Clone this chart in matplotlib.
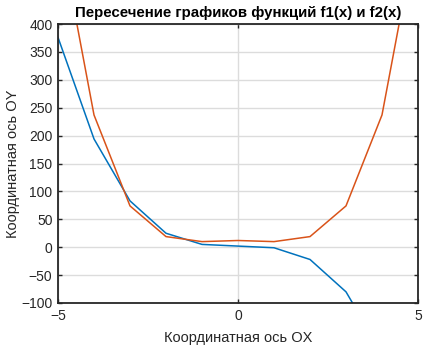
import matplotlib
matplotlib.use("Agg")
import matplotlib.pyplot as plt

plt.rcParams['font.family'] = ['Liberation Sans', 'DejaVu Sans']

x = [-5, -4, -3, -2, -1, 0, 1, 2, 3, 4, 5]
f1 = [376, 194, 83, 25, 5, 2, -1, -22, -80, -190, -373]
f2 = [580, 237, 74, 19, 10, 12, 10, 19, 74, 237, 580]

dark = '#262626'

fig = plt.figure(figsize=(4.37, 3.46), dpi=100)
ax = fig.add_axes([58/437, 1 - 303/346, 360/437, 279/346])

ax.plot(x, f1, color='#0072BD', linewidth=1.1)
ax.plot(x, f2, color='#D95319', linewidth=1.1)

ax.set_xlim(-5, 5)
ax.set_ylim(-100, 400)
ax.set_xticks([-5, 0, 5])
ax.set_yticks(range(-100, 401, 50))
ax.grid(True, color='#dcdcdc', linewidth=1.0)
ax.set_axisbelow(True)

ax.tick_params(direction='in', top=True, right=True, length=3, width=1,
               colors=dark, labelsize=10, labelcolor=dark, pad=4)
for s in ax.spines.values():
    s.set_color(dark)
    s.set_linewidth(1.3)

ax.set_title('Пересечение графиков функций f1(x) и f2(x)', fontsize=10.8,
             fontweight='bold', color='black', pad=5)
ax.set_xlabel('Координатная ось OX', fontsize=10.5, color=dark, labelpad=6)
ax.set_ylabel('Координатная ось OY', fontsize=10.5, color=dark, labelpad=1)

fig.savefig('out.png', dpi=100)
